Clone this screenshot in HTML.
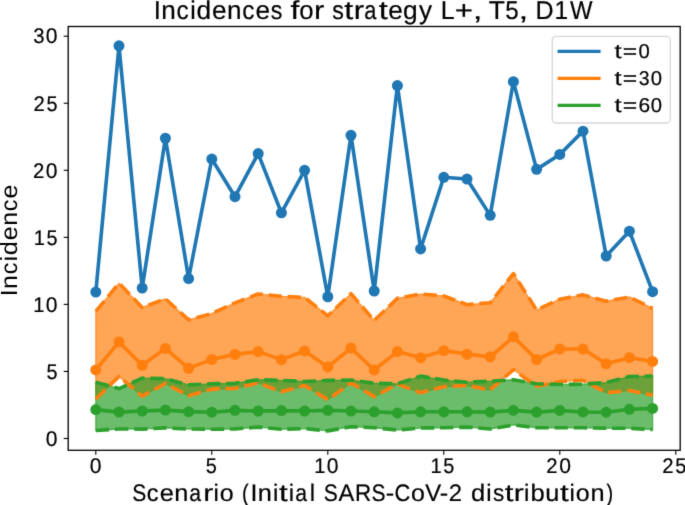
<!DOCTYPE html>
<html><head><meta charset="utf-8"><style>
html,body{margin:0;padding:0;background:#fff;}
svg{display:block;}
#w{width:685px;height:505px;}
text{font-family:"Liberation Sans",sans-serif;text-rendering:geometricPrecision;stroke:#000;stroke-width:0.20px;}
.r text{stroke:none;}
</style></head><body><div id="w">
<svg width="685" height="505" viewBox="0 0 685 505">
<rect width="685" height="505" fill="#fff"/>
<defs><filter id="bl" filterUnits="userSpaceOnUse" x="0" y="0" width="685" height="505" color-interpolation-filters="sRGB"><feConvolveMatrix order="3" kernelMatrix="0.01134 0.08382 0.01134 0.08382 0.61935 0.08382 0.01134 0.08382 0.01134" edgeMode="duplicate" preserveAlpha="true"/></filter><clipPath id="ax"><rect x="68.20" y="26.50" width="612.00" height="423.80"/></clipPath></defs>
<g filter="url(#bl)">
<rect width="685" height="505" fill="#fff"/>
<g clip-path="url(#ax)">
<path d="M95.80,311.37 L119.00,283.21 L142.20,307.48 L165.40,298.77 L188.60,319.82 L211.80,313.52 L235.00,302.92 L258.20,293.94 L281.40,296.35 L304.60,297.43 L327.80,315.80 L351.00,293.67 L374.20,320.49 L397.40,298.37 L420.60,294.07 L443.80,295.95 L467.00,304.67 L490.20,302.79 L513.40,273.56 L536.60,310.03 L559.80,299.17 L583.00,294.88 L606.20,301.18 L629.40,297.02 L652.60,308.42 L652.60,395.19 L629.40,390.49 L606.20,392.77 L583.00,380.30 L559.80,381.51 L536.60,386.34 L513.40,369.57 L490.20,389.96 L467.00,385.53 L443.80,386.74 L420.60,392.77 L397.40,384.06 L374.20,396.66 L351.00,382.85 L327.80,399.75 L304.60,385.53 L281.40,391.83 L258.20,382.85 L235.00,388.48 L211.80,389.15 L188.60,395.72 L165.40,383.52 L142.20,396.26 L119.00,376.41 L95.80,399.07 Z" fill="#ff7f0e" fill-opacity="0.7" stroke="#ff7f0e" stroke-opacity="0.7" stroke-width="1.3"/>
<path d="M95.80,382.31 L119.00,388.61 L142.20,378.15 L165.40,378.69 L188.60,384.86 L211.80,383.79 L235.00,383.25 L258.20,379.76 L281.40,380.43 L304.60,381.51 L327.80,380.43 L351.00,380.03 L374.20,383.25 L397.40,383.79 L420.60,376.14 L443.80,380.03 L467.00,382.18 L490.20,381.24 L513.40,379.76 L536.60,383.79 L559.80,384.46 L583.00,384.19 L606.20,382.58 L629.40,376.55 L652.60,376.01 L652.60,429.52 L629.40,428.31 L606.20,428.31 L583.00,427.77 L559.80,427.77 L536.60,427.77 L513.40,424.96 L490.20,428.98 L467.00,427.10 L443.80,427.77 L420.60,428.04 L397.40,430.05 L374.20,427.77 L351.00,426.70 L327.80,430.86 L304.60,428.58 L281.40,429.25 L258.20,427.10 L235.00,428.98 L211.80,429.25 L188.60,428.98 L165.40,427.91 L142.20,429.11 L119.00,428.98 L95.80,430.45 Z" fill="#2ca02c" fill-opacity="0.7" stroke="#2ca02c" stroke-opacity="0.7" stroke-width="1.3"/>
<polyline points="95.80,292.06 119.00,45.86 142.20,288.04 165.40,138.25 188.60,278.52 211.80,159.04 235.00,196.72 258.20,153.54 281.40,212.81 304.60,170.30 327.80,296.76 351.00,135.30 374.20,290.99 397.40,85.55 420.60,248.88 443.80,177.27 467.00,179.02 490.20,215.36 513.40,81.66 536.60,169.36 559.80,154.48 583.00,131.14 606.20,255.99 629.40,231.18 652.60,291.66" fill="none" stroke="#1f77b4" stroke-width="3.62" stroke-linejoin="round" stroke-linecap="square"/>
<circle cx="95.80" cy="292.06" r="5.50" fill="#1f77b4"/><circle cx="119.00" cy="45.86" r="5.50" fill="#1f77b4"/><circle cx="142.20" cy="288.04" r="5.50" fill="#1f77b4"/><circle cx="165.40" cy="138.25" r="5.50" fill="#1f77b4"/><circle cx="188.60" cy="278.52" r="5.50" fill="#1f77b4"/><circle cx="211.80" cy="159.04" r="5.50" fill="#1f77b4"/><circle cx="235.00" cy="196.72" r="5.50" fill="#1f77b4"/><circle cx="258.20" cy="153.54" r="5.50" fill="#1f77b4"/><circle cx="281.40" cy="212.81" r="5.50" fill="#1f77b4"/><circle cx="304.60" cy="170.30" r="5.50" fill="#1f77b4"/><circle cx="327.80" cy="296.76" r="5.50" fill="#1f77b4"/><circle cx="351.00" cy="135.30" r="5.50" fill="#1f77b4"/><circle cx="374.20" cy="290.99" r="5.50" fill="#1f77b4"/><circle cx="397.40" cy="85.55" r="5.50" fill="#1f77b4"/><circle cx="420.60" cy="248.88" r="5.50" fill="#1f77b4"/><circle cx="443.80" cy="177.27" r="5.50" fill="#1f77b4"/><circle cx="467.00" cy="179.02" r="5.50" fill="#1f77b4"/><circle cx="490.20" cy="215.36" r="5.50" fill="#1f77b4"/><circle cx="513.40" cy="81.66" r="5.50" fill="#1f77b4"/><circle cx="536.60" cy="169.36" r="5.50" fill="#1f77b4"/><circle cx="559.80" cy="154.48" r="5.50" fill="#1f77b4"/><circle cx="583.00" cy="131.14" r="5.50" fill="#1f77b4"/><circle cx="606.20" cy="255.99" r="5.50" fill="#1f77b4"/><circle cx="629.40" cy="231.18" r="5.50" fill="#1f77b4"/><circle cx="652.60" cy="291.66" r="5.50" fill="#1f77b4"/>
<polyline points="95.80,369.97 119.00,341.95 142.20,365.28 165.40,348.38 188.60,368.37 211.80,359.38 235.00,354.42 258.20,351.60 281.40,359.65 304.60,350.93 327.80,366.89 351.00,348.12 374.20,369.97 397.40,351.60 420.60,357.64 443.80,350.66 467.00,354.15 490.20,356.83 513.40,336.85 536.60,359.52 559.80,349.06 583.00,349.06 606.20,363.81 629.40,357.64 652.60,361.39" fill="none" stroke="#ff7f0e" stroke-width="3.62" stroke-linejoin="round" stroke-linecap="square"/>
<circle cx="95.80" cy="369.97" r="5.50" fill="#ff7f0e"/><circle cx="119.00" cy="341.95" r="5.50" fill="#ff7f0e"/><circle cx="142.20" cy="365.28" r="5.50" fill="#ff7f0e"/><circle cx="165.40" cy="348.38" r="5.50" fill="#ff7f0e"/><circle cx="188.60" cy="368.37" r="5.50" fill="#ff7f0e"/><circle cx="211.80" cy="359.38" r="5.50" fill="#ff7f0e"/><circle cx="235.00" cy="354.42" r="5.50" fill="#ff7f0e"/><circle cx="258.20" cy="351.60" r="5.50" fill="#ff7f0e"/><circle cx="281.40" cy="359.65" r="5.50" fill="#ff7f0e"/><circle cx="304.60" cy="350.93" r="5.50" fill="#ff7f0e"/><circle cx="327.80" cy="366.89" r="5.50" fill="#ff7f0e"/><circle cx="351.00" cy="348.12" r="5.50" fill="#ff7f0e"/><circle cx="374.20" cy="369.97" r="5.50" fill="#ff7f0e"/><circle cx="397.40" cy="351.60" r="5.50" fill="#ff7f0e"/><circle cx="420.60" cy="357.64" r="5.50" fill="#ff7f0e"/><circle cx="443.80" cy="350.66" r="5.50" fill="#ff7f0e"/><circle cx="467.00" cy="354.15" r="5.50" fill="#ff7f0e"/><circle cx="490.20" cy="356.83" r="5.50" fill="#ff7f0e"/><circle cx="513.40" cy="336.85" r="5.50" fill="#ff7f0e"/><circle cx="536.60" cy="359.52" r="5.50" fill="#ff7f0e"/><circle cx="559.80" cy="349.06" r="5.50" fill="#ff7f0e"/><circle cx="583.00" cy="349.06" r="5.50" fill="#ff7f0e"/><circle cx="606.20" cy="363.81" r="5.50" fill="#ff7f0e"/><circle cx="629.40" cy="357.64" r="5.50" fill="#ff7f0e"/><circle cx="652.60" cy="361.39" r="5.50" fill="#ff7f0e"/>
<polyline points="95.80,399.07 119.00,376.41 142.20,396.26 165.40,383.52 188.60,395.72 211.80,389.15 235.00,388.48 258.20,382.85 281.40,391.83 304.60,385.53 327.80,399.75 351.00,382.85 374.20,396.66 397.40,384.06 420.60,392.77 443.80,386.74 467.00,385.53 490.20,389.96 513.40,369.57 536.60,386.34 559.80,381.51 583.00,380.30 606.20,392.77 629.40,390.49 652.60,395.19" fill="none" stroke="#ff7f0e" stroke-width="3.62" stroke-linejoin="round" stroke-linecap="butt" stroke-dasharray="13.39 5.79"/>
<polyline points="95.80,311.37 119.00,283.21 142.20,307.48 165.40,298.77 188.60,319.82 211.80,313.52 235.00,302.92 258.20,293.94 281.40,296.35 304.60,297.43 327.80,315.80 351.00,293.67 374.20,320.49 397.40,298.37 420.60,294.07 443.80,295.95 467.00,304.67 490.20,302.79 513.40,273.56 536.60,310.03 559.80,299.17 583.00,294.88 606.20,301.18 629.40,297.02 652.60,308.42" fill="none" stroke="#ff7f0e" stroke-width="3.62" stroke-linejoin="round" stroke-linecap="butt" stroke-dasharray="13.39 5.79"/>
<polyline points="95.80,409.53 119.00,412.08 142.20,411.01 165.40,410.07 188.60,411.68 211.80,412.22 235.00,410.34 258.20,411.01 281.40,410.61 304.60,411.01 327.80,410.34 351.00,411.01 374.20,411.81 397.40,412.89 420.60,411.81 443.80,411.81 467.00,411.81 490.20,412.08 513.40,410.34 536.60,412.08 559.80,410.47 583.00,411.95 606.20,412.22 629.40,409.27 652.60,408.46" fill="none" stroke="#2ca02c" stroke-width="3.62" stroke-linejoin="round" stroke-linecap="square"/>
<circle cx="95.80" cy="409.53" r="5.50" fill="#2ca02c"/><circle cx="119.00" cy="412.08" r="5.50" fill="#2ca02c"/><circle cx="142.20" cy="411.01" r="5.50" fill="#2ca02c"/><circle cx="165.40" cy="410.07" r="5.50" fill="#2ca02c"/><circle cx="188.60" cy="411.68" r="5.50" fill="#2ca02c"/><circle cx="211.80" cy="412.22" r="5.50" fill="#2ca02c"/><circle cx="235.00" cy="410.34" r="5.50" fill="#2ca02c"/><circle cx="258.20" cy="411.01" r="5.50" fill="#2ca02c"/><circle cx="281.40" cy="410.61" r="5.50" fill="#2ca02c"/><circle cx="304.60" cy="411.01" r="5.50" fill="#2ca02c"/><circle cx="327.80" cy="410.34" r="5.50" fill="#2ca02c"/><circle cx="351.00" cy="411.01" r="5.50" fill="#2ca02c"/><circle cx="374.20" cy="411.81" r="5.50" fill="#2ca02c"/><circle cx="397.40" cy="412.89" r="5.50" fill="#2ca02c"/><circle cx="420.60" cy="411.81" r="5.50" fill="#2ca02c"/><circle cx="443.80" cy="411.81" r="5.50" fill="#2ca02c"/><circle cx="467.00" cy="411.81" r="5.50" fill="#2ca02c"/><circle cx="490.20" cy="412.08" r="5.50" fill="#2ca02c"/><circle cx="513.40" cy="410.34" r="5.50" fill="#2ca02c"/><circle cx="536.60" cy="412.08" r="5.50" fill="#2ca02c"/><circle cx="559.80" cy="410.47" r="5.50" fill="#2ca02c"/><circle cx="583.00" cy="411.95" r="5.50" fill="#2ca02c"/><circle cx="606.20" cy="412.22" r="5.50" fill="#2ca02c"/><circle cx="629.40" cy="409.27" r="5.50" fill="#2ca02c"/><circle cx="652.60" cy="408.46" r="5.50" fill="#2ca02c"/>
<polyline points="95.80,430.45 119.00,428.98 142.20,429.11 165.40,427.91 188.60,428.98 211.80,429.25 235.00,428.98 258.20,427.10 281.40,429.25 304.60,428.58 327.80,430.86 351.00,426.70 374.20,427.77 397.40,430.05 420.60,428.04 443.80,427.77 467.00,427.10 490.20,428.98 513.40,424.96 536.60,427.77 559.80,427.77 583.00,427.77 606.20,428.31 629.40,428.31 652.60,429.52" fill="none" stroke="#2ca02c" stroke-width="3.62" stroke-linejoin="round" stroke-linecap="butt" stroke-dasharray="13.39 5.79"/>
<polyline points="95.80,382.31 119.00,388.61 142.20,378.15 165.40,378.69 188.60,384.86 211.80,383.79 235.00,383.25 258.20,379.76 281.40,380.43 304.60,381.51 327.80,380.43 351.00,380.03 374.20,383.25 397.40,383.79 420.60,376.14 443.80,380.03 467.00,382.18 490.20,381.24 513.40,379.76 536.60,383.79 559.80,384.46 583.00,384.19 606.20,382.58 629.40,376.55 652.60,376.01" fill="none" stroke="#2ca02c" stroke-width="3.62" stroke-linejoin="round" stroke-linecap="butt" stroke-dasharray="13.39 5.79"/>
</g>
<rect x="68.20" y="26.50" width="612.00" height="423.80" fill="none" stroke="#000" stroke-width="1.30"/>
<line x1="63.70" y1="438.50" x2="68.20" y2="438.50" stroke="#000" stroke-width="1.1"/>
<line x1="63.70" y1="371.45" x2="68.20" y2="371.45" stroke="#000" stroke-width="1.1"/>
<line x1="63.70" y1="304.40" x2="68.20" y2="304.40" stroke="#000" stroke-width="1.1"/>
<line x1="63.70" y1="237.35" x2="68.20" y2="237.35" stroke="#000" stroke-width="1.1"/>
<line x1="63.70" y1="170.30" x2="68.20" y2="170.30" stroke="#000" stroke-width="1.1"/>
<line x1="63.70" y1="103.25" x2="68.20" y2="103.25" stroke="#000" stroke-width="1.1"/>
<line x1="63.70" y1="36.20" x2="68.20" y2="36.20" stroke="#000" stroke-width="1.1"/>
<line x1="95.80" y1="450.30" x2="95.80" y2="454.80" stroke="#000" stroke-width="1.1"/>
<line x1="211.80" y1="450.30" x2="211.80" y2="454.80" stroke="#000" stroke-width="1.1"/>
<line x1="327.80" y1="450.30" x2="327.80" y2="454.80" stroke="#000" stroke-width="1.1"/>
<line x1="443.80" y1="450.30" x2="443.80" y2="454.80" stroke="#000" stroke-width="1.1"/>
<line x1="559.80" y1="450.30" x2="559.80" y2="454.80" stroke="#000" stroke-width="1.1"/>
<line x1="675.80" y1="450.30" x2="675.80" y2="454.80" stroke="#000" stroke-width="1.1"/>
<g>
<text font-size="21.19" transform="matrix(0.9950,0,0,1.0000,45.80,445.78)" fill="#000">0</text>
<text font-size="21.19" transform="matrix(0.9388,0,0,1.0000,46.47,378.73)" fill="#000">5</text>
<text font-size="21.19" transform="matrix(0.9503,0,0,1.0000,33.24,311.68)" fill="#000">1</text>
<text font-size="21.19" transform="matrix(0.9950,0,0,1.0000,45.80,311.68)" fill="#000">0</text>
<text font-size="21.19" transform="matrix(0.9503,0,0,1.0000,33.66,244.63)" fill="#000">1</text>
<text font-size="21.19" transform="matrix(0.9388,0,0,1.0000,46.47,244.63)" fill="#000">5</text>
<text font-size="21.19" transform="matrix(0.9586,0,0,1.0000,33.02,177.58)" fill="#000">2</text>
<text font-size="21.19" transform="matrix(0.9950,0,0,1.0000,45.80,177.58)" fill="#000">0</text>
<text font-size="21.19" transform="matrix(0.9586,0,0,1.0000,33.44,110.53)" fill="#000">2</text>
<text font-size="21.19" transform="matrix(0.9388,0,0,1.0000,46.47,110.53)" fill="#000">5</text>
<text font-size="21.19" transform="matrix(0.9553,0,0,1.0000,33.33,43.48)" fill="#000">3</text>
<text font-size="21.19" transform="matrix(0.9950,0,0,1.0000,45.80,43.48)" fill="#000">0</text>
<text font-size="21.19" transform="matrix(0.9950,0,0,1.0000,89.74,472.60)" fill="#000">0</text>
<text font-size="21.19" transform="matrix(0.9388,0,0,1.0000,205.69,472.60)" fill="#000">5</text>
<text font-size="21.19" transform="matrix(0.9503,0,0,1.0000,314.20,472.60)" fill="#000">1</text>
<text font-size="21.19" transform="matrix(0.9950,0,0,1.0000,326.76,472.60)" fill="#000">0</text>
<text font-size="21.19" transform="matrix(0.9503,0,0,1.0000,430.41,472.60)" fill="#000">1</text>
<text font-size="21.19" transform="matrix(0.9388,0,0,1.0000,443.22,472.60)" fill="#000">5</text>
<text font-size="21.19" transform="matrix(0.9586,0,0,1.0000,546.35,472.60)" fill="#000">2</text>
<text font-size="21.19" transform="matrix(0.9950,0,0,1.0000,559.13,472.60)" fill="#000">0</text>
<text font-size="21.19" transform="matrix(0.9586,0,0,1.0000,662.16,472.60)" fill="#000">2</text>
<text font-size="21.19" transform="matrix(0.9388,0,0,1.0000,675.19,472.60)" fill="#000">5</text>
<text font-size="25.90" transform="matrix(0.9890,0,0,1.0000,153.73,18.80)" fill="#000">I</text>
<text font-size="25.90" transform="matrix(1.0090,0,0,1.0000,161.33,18.80)" fill="#000">n</text>
<text font-size="25.90" transform="matrix(0.9391,0,0,1.0000,176.53,18.80)" fill="#000">c</text>
<text font-size="25.90" transform="matrix(0.9557,0,0,1.0000,190.18,18.80)" fill="#000">i</text>
<text font-size="25.90" transform="matrix(1.0170,0,0,1.0000,196.52,18.80)" fill="#000">d</text>
<text font-size="25.90" transform="matrix(1.0108,0,0,1.0000,211.89,18.80)" fill="#000">e</text>
<text font-size="25.90" transform="matrix(1.0090,0,0,1.0000,227.04,18.80)" fill="#000">n</text>
<text font-size="25.90" transform="matrix(0.9391,0,0,1.0000,242.24,18.80)" fill="#000">c</text>
<text font-size="25.90" transform="matrix(1.0108,0,0,1.0000,255.49,18.80)" fill="#000">e</text>
<text font-size="25.90" transform="matrix(0.8968,0,0,1.0000,270.84,18.80)" fill="#000">s</text>
<text font-size="25.90" transform="matrix(1.2285,0,0,1.0000,290.61,18.80)" fill="#000">f</text>
<text font-size="25.90" transform="matrix(0.9949,0,0,1.0000,299.29,18.80)" fill="#000">o</text>
<text font-size="25.90" transform="matrix(1.1989,0,0,1.0000,314.00,18.80)" fill="#000">r</text>
<text font-size="25.90" transform="matrix(0.8968,0,0,1.0000,332.19,18.80)" fill="#000">s</text>
<text font-size="25.90" transform="matrix(1.2507,0,0,1.0000,344.31,18.80)" fill="#000">t</text>
<text font-size="25.90" transform="matrix(1.1989,0,0,1.0000,353.79,18.80)" fill="#000">r</text>
<text font-size="25.90" transform="matrix(0.8418,0,0,1.0000,364.15,18.80)" fill="#000">a</text>
<text font-size="25.90" transform="matrix(1.2507,0,0,1.0000,378.63,18.80)" fill="#000">t</text>
<text font-size="25.90" transform="matrix(1.0108,0,0,1.0000,388.19,18.80)" fill="#000">e</text>
<text font-size="25.90" transform="matrix(1.0170,0,0,1.0000,403.11,18.80)" fill="#000">g</text>
<text font-size="25.90" transform="matrix(1.0048,0,0,1.0000,418.92,18.80)" fill="#000">y</text>
<text font-size="25.90" transform="matrix(0.9626,0,0,1.0000,440.64,18.80)" fill="#000">L</text>
<text font-size="25.90" transform="matrix(1.2057,0,0,1.0000,454.85,18.80)" fill="#000">+</text>
<text font-size="25.90" transform="matrix(1.3634,0,0,1.0000,472.81,18.80)" fill="#000">,</text>
<text font-size="25.90" transform="matrix(1.0205,0,0,1.0000,488.86,18.80)" fill="#000">T</text>
<text font-size="25.90" transform="matrix(0.9308,0,0,1.0000,505.23,18.80)" fill="#000">5</text>
<text font-size="25.90" transform="matrix(1.3634,0,0,1.0000,518.44,18.80)" fill="#000">,</text>
<text font-size="25.90" transform="matrix(0.9681,0,0,1.0000,535.47,18.80)" fill="#000">D</text>
<text font-size="25.90" transform="matrix(0.9422,0,0,1.0000,554.61,18.80)" fill="#000">1</text>
<text font-size="25.90" transform="matrix(0.9225,0,0,1.0000,569.93,18.80)" fill="#000">W</text>
<text font-size="23.90" transform="matrix(0.8773,0,0,1.0000,132.15,500.80)" fill="#000">S</text>
<text font-size="23.90" transform="matrix(0.9878,0,0,1.0000,146.78,500.80)" fill="#000">c</text>
<text font-size="23.90" transform="matrix(1.0632,0,0,1.0000,159.64,500.80)" fill="#000">e</text>
<text font-size="23.90" transform="matrix(1.0613,0,0,1.0000,174.34,500.80)" fill="#000">n</text>
<text font-size="23.90" transform="matrix(0.8854,0,0,1.0000,189.32,500.80)" fill="#000">a</text>
<text font-size="23.90" transform="matrix(1.2610,0,0,1.0000,203.35,500.80)" fill="#000">r</text>
<text font-size="23.90" transform="matrix(1.0052,0,0,1.0000,213.50,500.80)" fill="#000">i</text>
<text font-size="23.90" transform="matrix(1.0464,0,0,1.0000,219.68,500.80)" fill="#000">o</text>
<text font-size="23.90" transform="matrix(0.8317,0,0,1.0000,242.09,500.80)" fill="#000">(</text>
<text font-size="23.90" transform="matrix(1.0403,0,0,1.0000,250.49,500.80)" fill="#000">I</text>
<text font-size="23.90" transform="matrix(1.0613,0,0,1.0000,257.87,500.80)" fill="#000">n</text>
<text font-size="23.90" transform="matrix(1.0052,0,0,1.0000,272.94,500.80)" fill="#000">i</text>
<text font-size="23.90" transform="matrix(1.3155,0,0,1.0000,279.02,500.80)" fill="#000">t</text>
<text font-size="23.90" transform="matrix(1.0052,0,0,1.0000,288.70,500.80)" fill="#000">i</text>
<text font-size="23.90" transform="matrix(0.8854,0,0,1.0000,295.14,500.80)" fill="#000">a</text>
<text font-size="23.90" transform="matrix(1.0052,0,0,1.0000,309.64,500.80)" fill="#000">l</text>
<text font-size="23.90" transform="matrix(0.8773,0,0,1.0000,323.66,500.80)" fill="#000">S</text>
<text font-size="23.90" transform="matrix(0.9916,0,0,1.0000,338.57,500.80)" fill="#000">A</text>
<text font-size="23.90" transform="matrix(0.9415,0,0,1.0000,354.99,500.80)" fill="#000">R</text>
<text font-size="23.90" transform="matrix(0.8773,0,0,1.0000,371.47,500.80)" fill="#000">S</text>
<text font-size="23.90" transform="matrix(1.0604,0,0,1.0000,385.84,500.80)" fill="#000">-</text>
<text font-size="23.90" transform="matrix(0.9138,0,0,1.0000,394.51,500.80)" fill="#000">C</text>
<text font-size="23.90" transform="matrix(1.0464,0,0,1.0000,410.97,500.80)" fill="#000">o</text>
<text font-size="23.90" transform="matrix(0.9987,0,0,1.0000,425.20,500.80)" fill="#000">V</text>
<text font-size="23.90" transform="matrix(1.0604,0,0,1.0000,439.86,500.80)" fill="#000">-</text>
<text font-size="23.90" transform="matrix(0.9997,0,0,1.0000,448.84,500.80)" fill="#000">2</text>
<text font-size="23.90" transform="matrix(1.0697,0,0,1.0000,470.99,500.80)" fill="#000">d</text>
<text font-size="23.90" transform="matrix(1.0052,0,0,1.0000,486.31,500.80)" fill="#000">i</text>
<text font-size="23.90" transform="matrix(0.9433,0,0,1.0000,492.89,500.80)" fill="#000">s</text>
<text font-size="23.90" transform="matrix(1.3155,0,0,1.0000,504.65,500.80)" fill="#000">t</text>
<text font-size="23.90" transform="matrix(1.2610,0,0,1.0000,513.86,500.80)" fill="#000">r</text>
<text font-size="23.90" transform="matrix(1.0052,0,0,1.0000,524.00,500.80)" fill="#000">i</text>
<text font-size="23.90" transform="matrix(1.0711,0,0,1.0000,530.42,500.80)" fill="#000">b</text>
<text font-size="23.90" transform="matrix(1.0613,0,0,1.0000,545.22,500.80)" fill="#000">u</text>
<text font-size="23.90" transform="matrix(1.3155,0,0,1.0000,559.93,500.80)" fill="#000">t</text>
<text font-size="23.90" transform="matrix(1.0052,0,0,1.0000,569.61,500.80)" fill="#000">i</text>
<text font-size="23.90" transform="matrix(1.0464,0,0,1.0000,575.78,500.80)" fill="#000">o</text>
<text font-size="23.90" transform="matrix(1.0613,0,0,1.0000,590.38,500.80)" fill="#000">n</text>
<text font-size="23.90" transform="matrix(0.8322,0,0,1.0000,606.61,500.80)" fill="#000">)</text>
<g class="r"><text font-size="23.40" transform="matrix(0.0000,-1.04999,1,0.0000,17.40,296.17)" fill="#000">I</text>
<text font-size="23.40" transform="matrix(0.0000,-1.07123,1,0.0000,17.40,288.88)" fill="#000">n</text>
<text font-size="23.40" transform="matrix(0.0000,-0.997013,1,0.0000,17.40,274.30)" fill="#000">c</text>
<text font-size="23.40" transform="matrix(0.0000,-1.01459,1,0.0000,17.40,261.20)" fill="#000">i</text>
<text font-size="23.40" transform="matrix(0.0000,-1.07971,1,0.0000,17.40,255.13)" fill="#000">d</text>
<text font-size="23.40" transform="matrix(0.0000,-1.07314,1,0.0000,17.40,240.37)" fill="#000">e</text>
<text font-size="23.40" transform="matrix(0.0000,-1.07123,1,0.0000,17.40,225.84)" fill="#000">n</text>
<text font-size="23.40" transform="matrix(0.0000,-0.997013,1,0.0000,17.40,211.26)" fill="#000">c</text>
<text font-size="23.40" transform="matrix(0.0000,-1.07314,1,0.0000,17.40,198.55)" fill="#000">e</text></g>
</g>
<rect x="552.20" y="36.30" width="118.10" height="86.70" rx="3.8" ry="3.8" fill="#fff" fill-opacity="0.8" stroke="#cccccc" stroke-opacity="0.8" stroke-width="1.3"/>
<line x1="557.6" y1="51.30" x2="600.6" y2="51.30" stroke="#1f77b4" stroke-width="3.3"/>
<text font-size="19.94" transform="matrix(1.2872,0,0,1.0000,614.61,57.50)" fill="#000">t</text>
<text font-size="19.94" transform="matrix(1.2409,0,0,1.0000,622.84,57.50)" fill="#000">=</text>
<text font-size="19.94" transform="matrix(1.0153,0,0,1.0000,638.57,57.50)" fill="#000">0</text>
<line x1="557.6" y1="78.30" x2="600.6" y2="78.30" stroke="#ff7f0e" stroke-width="3.3"/>
<text font-size="19.94" transform="matrix(1.2872,0,0,1.0000,614.61,84.55)" fill="#000">t</text>
<text font-size="19.94" transform="matrix(1.2409,0,0,1.0000,622.84,84.55)" fill="#000">=</text>
<text font-size="19.94" transform="matrix(0.9748,0,0,1.0000,638.82,84.55)" fill="#000">3</text>
<text font-size="19.94" transform="matrix(1.0153,0,0,1.0000,650.79,84.55)" fill="#000">0</text>
<line x1="557.6" y1="105.30" x2="600.6" y2="105.30" stroke="#2ca02c" stroke-width="3.3"/>
<text font-size="19.94" transform="matrix(1.2872,0,0,1.0000,614.61,111.60)" fill="#000">t</text>
<text font-size="19.94" transform="matrix(1.2409,0,0,1.0000,622.84,111.60)" fill="#000">=</text>
<text font-size="19.94" transform="matrix(1.0507,0,0,1.0000,638.38,111.60)" fill="#000">6</text>
<text font-size="19.94" transform="matrix(1.0153,0,0,1.0000,650.79,111.60)" fill="#000">0</text>
</g>
</svg></div>
</body></html>
